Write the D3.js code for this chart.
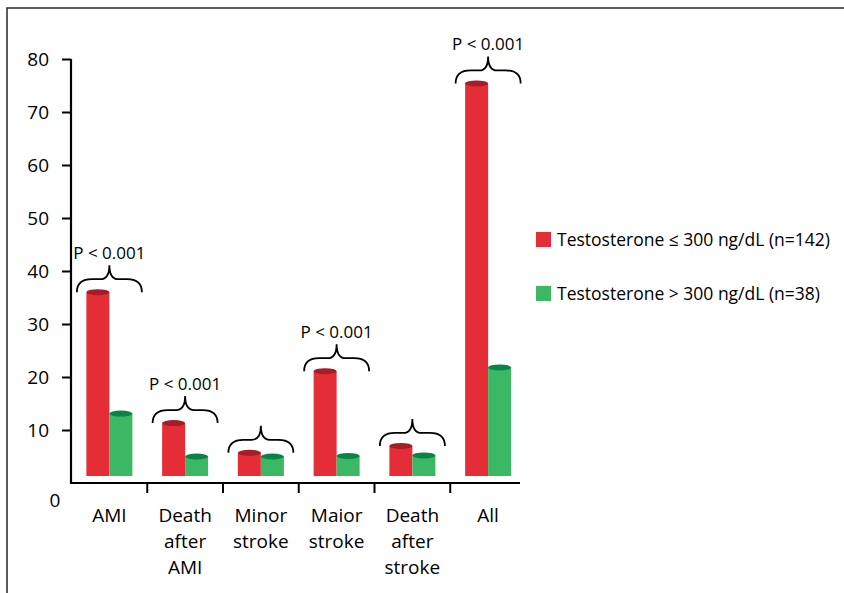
<!DOCTYPE html>
<html>
<head>
<meta charset="utf-8">
<script src="https://cdn.jsdelivr.net/npm/d3@7/dist/d3.min.js"></script>
<style>
  html, body { margin: 0; padding: 0; background: #fff; }
  svg { display: block; font-family: "Open Sans", "Noto Sans", sans-serif; }
</style>
</head>
<body>
<svg id="chart" width="844" height="593"></svg>
<script>
// ---- data ----
const categories = [["AMI"], ["Death", "after", "AMI"], ["Minor", "stroke"], ["Maior", "stroke"], ["Death", "after", "stroke"], ["All"]];
const lowT  = [36, 11.3, 5.7, 21.1, 7.0, 75.4];   // Testosterone <= 300 ng/dL (n=142)
const highT = [13.1, 5.0, 5.0, 5.1, 5.2, 21.8];   // Testosterone > 300 ng/dL (n=38)
const pLabels = ["P < 0.001", "P < 0.001", "", "P < 0.001", "", "P < 0.001"];
const yTicks = [10, 20, 30, 40, 50, 60, 70, 80];
const seriesNames = ["Testosterone \u2264 300 ng/dL (n=142)", "Testosterone > 300 ng/dL (n=38)"];

const colors = { red: "#e52d37", redTop: "#a51d26", green: "#3cb764", greenTop: "#078446" };

const svg = d3.select("#chart");

// outer frame
svg.append("rect").attr("x", 7).attr("y", 8).attr("width", 900).attr("height", 700)
  .attr("fill", "none").attr("stroke", "#333").attr("stroke-width", 1.6);

const keys = categories.map(c => c.join(" "));
const x = d3.scaleBand().domain(keys).range([71.5, 526]).padding(0);
const y = d3.scaleLinear().domain([0, 80]).range([483, 59]);

const barW = 23;
const baseLift = 7; // bars start slightly above the axis line

// y axis
const yAxis = d3.axisLeft(y).tickValues(yTicks).tickSize(9).tickPadding(13).tickFormat(d3.format("d"));
const gy = svg.append("g").attr("transform", "translate(71,0)").call(yAxis);
gy.select(".domain").remove();
gy.selectAll(".tick line").attr("stroke", "#000").attr("stroke-width", 2);
gy.selectAll(".tick text").attr("font-size", 19).attr("fill", "#000")
  .attr("font-family", "'Open Sans', sans-serif");
svg.append("line").attr("x1", 71).attr("x2", 71).attr("y1", y(80)).attr("y2", y(0) + 1)
  .attr("stroke", "#000").attr("stroke-width", 2.2);
// displaced zero label
svg.append("text").attr("x", 55).attr("y", y(0) + 24).attr("text-anchor", "middle")
  .attr("font-size", 19).attr("fill", "#000").text("0");

// x axis
svg.append("line").attr("x1", 70).attr("x2", 520).attr("y1", y(0)).attr("y2", y(0))
  .attr("stroke", "#000").attr("stroke-width", 2.2);
keys.slice(1).forEach(k => {
  svg.append("line").attr("x1", x(k)).attr("x2", x(k)).attr("y1", y(0)).attr("y2", y(0) + 10)
    .attr("stroke", "#000").attr("stroke-width", 2);
});

// category labels
categories.forEach((lines, i) => {
  const cx = x(keys[i]) + x.bandwidth() / 2;
  const t = svg.append("text").attr("text-anchor", "middle").attr("font-size", 19).attr("fill", "#000")
    .attr("x", cx).attr("y", 522);
  lines.forEach((ln, j) => {
    t.append("tspan").attr("x", cx).attr("dy", j === 0 ? 0 : 26).text(ln);
  });
});

// bars (cylinders)
function cylinder(cx, v, body, top) {
  const yt = y(v), yb = y(0) - baseLift;
  svg.append("rect").attr("x", cx - barW / 2).attr("y", yt).attr("width", barW).attr("height", yb - yt)
    .attr("fill", body);
  svg.append("ellipse").attr("cx", cx).attr("cy", yt).attr("rx", barW / 2).attr("ry", 3)
    .attr("fill", top);
}
keys.forEach((k, i) => {
  const c = x(k) + x.bandwidth() / 2;
  cylinder(c - barW / 2, lowT[i], colors.red, colors.redTop);
  cylinder(c + barW / 2, highT[i], colors.green, colors.greenTop);
});

// braces + p labels
function bracePath(cx, y0, w, h) {
  const m = y0 - 13;
  return `M${cx - w},${y0} C${cx - w},${y0 - 9} ${cx - w + 5},${m} ${cx - w + 15},${m}` +
    ` L${cx - 9},${m} C${cx - 3},${m} ${cx},${m - 4} ${cx},${y0 - h}` +
    ` C${cx},${m - 4} ${cx + 3},${m} ${cx + 9},${m}` +
    ` L${cx + w - 15},${m} C${cx + w - 5},${m} ${cx + w},${y0 - 9} ${cx + w},${y0}`;
}
keys.forEach((k, i) => {
  const c = x(k) + x.bandwidth() / 2;
  const y0 = y(Math.max(lowT[i], highT[i]));
  svg.append("path").attr("d", bracePath(c, y0, 32.5, 27))
    .attr("fill", "none").attr("stroke", "#000").attr("stroke-width", 1.8);
  if (pLabels[i]) {
    svg.append("text").attr("x", c).attr("y", y0 - 33).attr("text-anchor", "middle")
      .attr("font-size", 17).attr("fill", "#000").text(pLabels[i]);
  }
});

// legend
const legend = [[seriesNames[0], colors.red], [seriesNames[1], colors.green]];
legend.forEach((d, i) => {
  const ly = 232 + i * 54;
  svg.append("rect").attr("x", 536).attr("y", ly).attr("width", 15).attr("height", 15).attr("fill", d[1]);
  svg.append("text").attr("x", 557).attr("y", ly + 14).attr("font-size", 17.5).attr("fill", "#000").text(d[0]);
});
</script>
</body>
</html>
